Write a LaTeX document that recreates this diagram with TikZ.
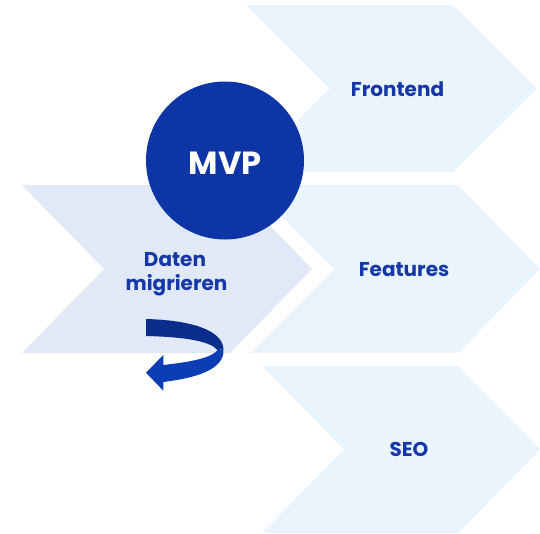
\documentclass[tikz,border=0pt]{standalone}
\usepackage{fontspec}
\setmainfont{Poppins}
\definecolor{chev}{HTML}{EAF4FD}
\definecolor{chevb}{HTML}{E1E8F6}
\definecolor{mvpc}{HTML}{0E35A6}
\definecolor{txt}{HTML}{1537A8}
\definecolor{arrd}{HTML}{0A2D8C}
\definecolor{arrl}{HTML}{0C3DB5}
\begin{document}
\begin{tikzpicture}[x=1pt,y=-1pt,
  lbl/.style={text=txt,font=\fontsize{20}{24}\selectfont\bfseries,inner sep=0pt,anchor=base},
  chevfill/.style={fill=chev}]
\useasboundingbox (0,0) rectangle (540,533);
% chevrons
\fill[chev] (246,5) -- (453,5) -- (537,88.5) -- (453,172) -- (246,172) -- (330,88.5) -- cycle;
\fill[chev] (250,185) -- (458,185) -- (540,269) -- (458,353) -- (250,353) -- (334,269) -- cycle;
\fill[chev] (262,366) -- (458,366) -- (540,449.5) -- (458,533) -- (262,533) -- (344,449.5) -- cycle;
\fill[chevb] (22,185) -- (230,185) -- (312,269) -- (230,353) -- (22,353) -- (104,269) -- cycle;
% labels
\node[lbl] (frontend) at (397.5,96.7) {Frontend};
\node[lbl] (features) at (404,276.7) {Features};
\node[lbl] (seo) at (409,456.7) {SEO};
\node[lbl] (daten) at (175,266) {Daten};
\node[lbl] (migr) at (176.5,290) {migrieren};
% circle
\node[circle,fill=mvpc,minimum size=158pt,inner sep=0pt] (mvp) at (225,160.5) {};
\node[text=white,font=\fontsize{32}{36}\selectfont\bfseries,inner sep=0pt,anchor=base] (mvptext) at (225,174.7) {MVP};
% curved arrow
\fill[arrd] (146,319) .. controls (185,320) and (222,328) .. (223.5,349) -- (217.5,350) .. controls (210,341) and (185,337) .. (146,336) -- cycle;
\fill[arrl] (223.5,349) .. controls (225,370) and (195,378) .. (163.3,382) -- (163.3,390.7) -- (146,372.7) -- (163.3,355) -- (163.3,365) .. controls (190,362) and (212,358) .. (217.5,350) -- cycle;
\end{tikzpicture}
\end{document}
